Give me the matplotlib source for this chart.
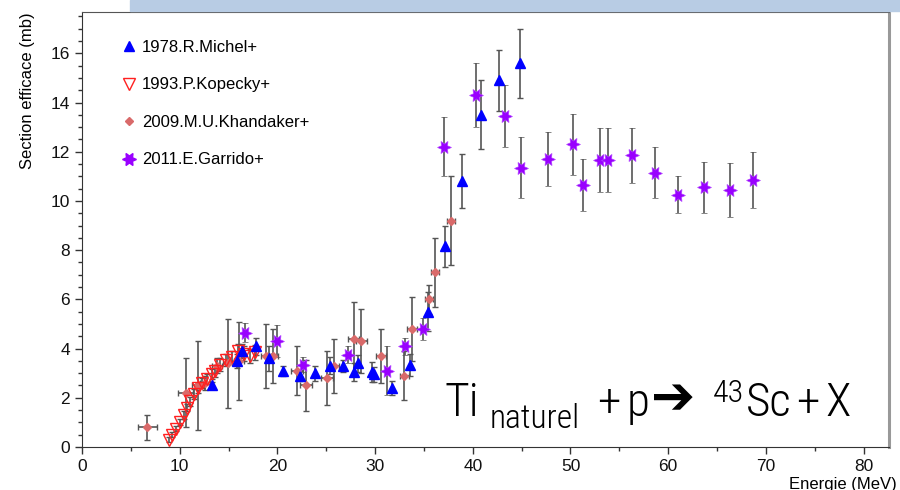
import matplotlib
matplotlib.use("Agg")
import matplotlib.pyplot as plt
from matplotlib.lines import Line2D
from matplotlib.patches import Rectangle

# 1978 R.Michel
mi_x = [13.3, 15.9, 16.4, 17.8, 19.1, 20.6, 22.3, 23.8, 25.4, 26.7, 27.8, 28.2,
        29.7, 29.9, 31.7, 33.6, 35.4, 37.2, 38.9, 40.8, 42.7, 44.8]
mi_y = [2.5, 3.5, 3.9, 4.1, 3.6, 3.1, 2.9, 3.0, 3.3, 3.3, 3.05, 3.4,
        3.05, 2.95, 2.4, 3.35, 5.5, 8.15, 10.8, 13.5, 14.9, 15.6]
mi_yerr = [0.15, 0.3, 0.3, 0.35, 0.5, 0.2, 0.2, 0.3, 0.35, 0.25, 0.35, 0.35,
           0.4, 0.3, 0.3, 0.45, 0.8, 0.85, 1.1, 1.4, 1.25, 1.4]

# 1993 P.Kopecky
ko_x = [8.9, 9.2, 9.6, 10.0, 10.4, 10.7, 11.1, 11.5, 11.9, 12.3, 12.8, 13.3,
        13.6, 14.1, 14.7, 15.4, 16.0, 16.6, 17.2, 17.7]
ko_y = [0.3, 0.5, 0.75, 1.0, 1.3, 1.6, 1.85, 2.15, 2.4, 2.6, 2.75, 2.95,
        3.1, 3.35, 3.55, 3.65, 3.9, 3.8, 3.7, 3.85]
ko_yerr = [0.1, 0.1, 0.12, 0.12, 0.15, 0.15, 0.2, 0.2, 0.2, 0.2, 0.2, 0.2,
           0.25, 0.25, 0.25, 0.25, 0.3, 0.3, 0.3, 0.3]

# 2009 M.U.Khandaker
kh_x = [6.7, 10.6, 11.9, 12.6, 13.8, 14.9, 16.1, 18.8, 19.6, 22.0, 22.9, 25.1,
        25.8, 27.8, 28.6, 30.6, 33.0, 33.8, 35.5, 36.1, 37.8]
kh_y = [0.8, 2.2, 2.5, 2.6, 3.3, 3.4, 3.5, 3.7, 3.7, 3.1, 2.5, 2.8,
        3.3, 4.4, 4.3, 3.7, 2.9, 4.8, 6.0, 7.1, 9.2]
kh_yerr = [0.5, 1.4, 1.8, 0.3, 0.3, 1.8, 1.6, 1.3, 1.1, 1.0, 1.05, 1.1,
           1.1, 1.5, 1.3, 1.1, 1.0, 1.3, 0.6, 1.4, 1.8]
kh_xerr = [0.95, 0.8, 0.6, 0.5, 0.5, 0.5, 0.5, 0.5, 0.5, 0.6, 0.6, 0.6,
           0.5, 0.6, 0.6, 0.5, 0.5, 0.5, 0.4, 0.4, 0.4]

# 2011 E.Garrido
ga_x = [16.7, 20.0, 22.6, 27.2, 31.2, 33.1, 34.9, 37.1, 40.3, 43.3, 44.9, 47.7,
        50.3, 51.3, 53.0, 53.8, 56.3, 58.7, 61.0, 63.7, 66.3, 68.7]
ga_y = [4.65, 4.3, 3.35, 3.75, 3.1, 4.1, 4.8, 12.2, 14.3, 13.45, 11.35, 11.7,
        12.3, 10.65, 11.65, 11.65, 11.85, 11.15, 10.25, 10.55, 10.45, 10.85]
ga_yerr = [0.4, 0.65, 0.3, 0.35, 1.0, 0.35, 0.45, 1.2, 1.3, 1.25, 1.25, 1.1,
           1.25, 1.05, 1.3, 1.3, 1.1, 1.05, 0.75, 1.05, 1.1, 1.15]

labels = ["1978.R.Michel+", "1993.P.Kopecky+", "2009.M.U.Khandaker+", "2011.E.Garrido+"]

plt.rcParams['font.family'] = ['Liberation Sans', 'DejaVu Sans']

fig = plt.figure(figsize=(9, 4.9), dpi=100)
fig.patches.append(Rectangle((130 / 900, 1 - 11 / 490), 1, 11 / 490,
                             transform=fig.transFigure, color='#b8cce4', zorder=0))
ax = fig.add_axes([82 / 900, 1 - 447 / 490, 807 / 900, 435 / 490])

ebar = dict(ecolor='#555555', elinewidth=1.2, capsize=2, capthick=1, linestyle='none')
ax.errorbar(kh_x, kh_y, yerr=kh_yerr, xerr=kh_xerr, marker='D', ms=4.5,
            color='#d96a6a', mec='#d96a6a', **ebar)
ax.errorbar(ko_x, ko_y, yerr=ko_yerr, marker='v', ms=8, mfc='none',
            mec='#ff2020', mew=1, **ebar)
ax.errorbar(mi_x, mi_y, yerr=mi_yerr, marker='^', ms=7, color='#0000ff', **ebar)
ax.errorbar(ga_x, ga_y, yerr=ga_yerr, marker=(6, 1, 30), ms=10,
            color='#9900ff', mec='#b040ff', mew=0.5, **ebar)

ax.set_xlim(0, 82.6)
ax.set_ylim(0, 17.68)
ax.set_xticks(range(0, 81, 10))
ax.set_xticks(range(5, 81, 10), minor=True)
ax.set_yticks(range(0, 17, 2))
ax.set_yticks([v / 2 for v in range(0, 36)], minor=True)
ax.tick_params(direction='out', length=5, width=1, color='#333333',
               labelsize=12.5, labelcolor='#111111')
ax.tick_params(which='minor', direction='out', length=3, width=1, color='#333333')

ax.spines['top'].set_color('#555555')
ax.spines['right'].set_color('#999999')
ax.spines['right'].set_linewidth(2.2)
ax.spines['left'].set_color('#333333')
ax.spines['bottom'].set_color('#333333')

ax.set_ylabel("Section efficace (mb)", fontsize=12, loc='top')
ax.yaxis.set_label_coords(-0.058, 1)
ax.set_xlabel("Energie (MeV)", fontsize=12, loc='right')
ax.xaxis.set_label_coords(1.009, -0.07)

handles = [
    Line2D([], [], marker='^', ls='none', ms=7, color='#0000ff'),
    Line2D([], [], marker='v', ls='none', ms=8, mfc='none', mec='#ff2020'),
    Line2D([], [], marker='D', ls='none', ms=4.5, color='#d96a6a'),
    Line2D([], [], marker=(6, 1, 30), ls='none', ms=10, color='#9900ff'),
]
ax.legend(handles, labels, loc='upper left', bbox_to_anchor=(0.04, 0.955),
          frameon=False, fontsize=12, labelspacing=1.35, handlelength=0.8,
          handletextpad=0.35, borderpad=0)

# reaction text
fam = ['Roboto Condensed', 'DejaVu Sans']
big = dict(fontsize=34, family=fam, weight='light', va='baseline')
fig.text(445 / 900, 1 - 416 / 490, "Ti", **big)
fig.text(490 / 900, 1 - 428 / 490, "naturel", fontsize=24, family=fam,
         weight='light', va='baseline')
fig.text(597 / 900, 1 - 416 / 490, "+", **big)
fig.text(627 / 900, 1 - 416 / 490, "p", **big)
fig.text(651 / 900, 1 - 414 / 490, "\u2794", fontsize=38, family=['DejaVu Sans'], va='baseline')
fig.text(713 / 900, 1 - 402 / 490, "43", fontsize=23, family=fam,
         weight='light', va='baseline')
fig.text(746 / 900, 1 - 416 / 490, "Sc", **big)
fig.text(796 / 900, 1 - 416 / 490, "+", **big)
fig.text(825 / 900, 1 - 416 / 490, "X", **big)

fig.savefig("out.png", dpi=100)
